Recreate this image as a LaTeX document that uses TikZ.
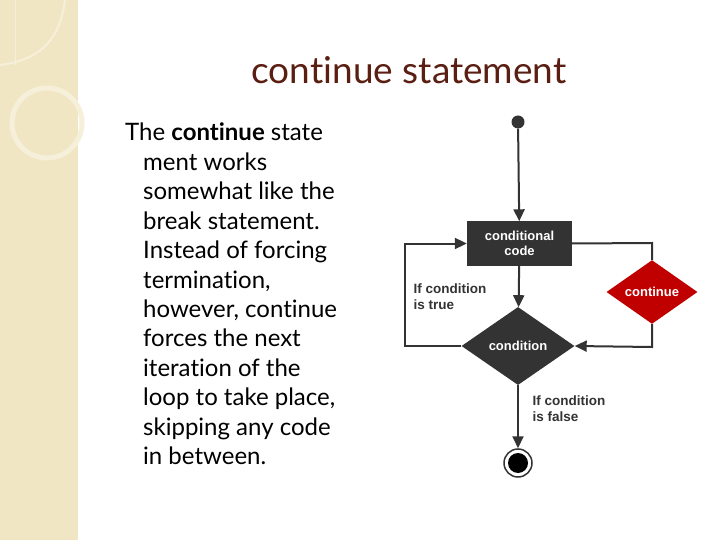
\documentclass[tikz,border=0pt]{standalone}
\usepackage{fontspec}
\setmainfont{Lato}[Ligatures=NoCommon]
\newfontfamily\fcfont{Liberation Sans}
\usetikzlibrary{shapes.geometric,arrows.meta}
\definecolor{strip}{HTML}{F1E6C4}
\definecolor{titlec}{HTML}{5A1E12}
\definecolor{fl}{HTML}{333333}
\definecolor{contc}{HTML}{C00000}
\begin{document}
\begin{tikzpicture}[x=1pt,y=-1pt,
  line/.style={draw=fl,line width=2pt},
  arr/.style={line,-{Triangle[length=12pt,width=11pt]}},
  bodyline/.style={anchor=base west,font=\fontsize{24}{24}\selectfont,inner sep=0pt},
  fctext/.style={font=\fcfont\bfseries\fontsize{13.5}{16}\selectfont,text=fl,align=left}]
\useasboundingbox (0,0) rectangle (720,540);
\fill[white] (0,0) rectangle (720,540);
\fill[strip] (0,0) rectangle (78,540);
\draw[white!35!strip,line width=5pt] (47,123) circle (35);
\draw[white!35!strip,line width=2pt] (0,65) .. controls (40,60) and (60,40) .. (65,0);
\draw[white!35!strip,line width=1pt] (15,0) -- (15,65);
\node[text=titlec,font=\fontsize{37}{37}\selectfont] (title) at (409,70) {continue statement};
\node[bodyline] (l1) at (125,141) {The \textbf{continue} state};
\foreach \t [count=\i] in {ment works,somewhat like the,break statement.,Instead of forcing,{termination,},{however, continue},forces the next,iteration of the,{loop to take place,},skipping any code,in between.}{
  \node[bodyline] (l\i x) at (143,141+29.4*\i) {\t};
}
% flowchart
\node[circle,fill=fl,minimum size=13pt,inner sep=0] (start) at (518,122) {};
\node[fill=fl,minimum width=105pt,minimum height=44pt,text=white,align=center,font=\fcfont\bfseries\fontsize{13}{15.5}\selectfont] (code) at (519.5,243.5) {conditional\\code};
\node[diamond,fill=fl,minimum width=113pt,minimum height=78pt,inner sep=0,text=white,font=\fcfont\bfseries\fontsize{13}{15}\selectfont] (cond) at (518,346) {condition};
\node[diamond,fill=contc,minimum width=91pt,minimum height=55pt,inner sep=0,text=white,font=\fcfont\bfseries\fontsize{13}{15}\selectfont] (cont) at (652,292) {continue};
\node[circle,draw=fl,line width=1.5pt,fill=white,minimum size=28pt,inner sep=0] (endo) at (518,463) {};
\node[circle,fill=black,minimum size=20pt,inner sep=0] (endi) at (518,463) {};
\coordinate (lc) at (405,346);
\coordinate (rc) at (652,347);
\coordinate (rt) at (652,243);
\draw[arr] (start) -- (code);
\draw[arr] (code) -- (cond);
\draw[arr] (cond.west) -- (lc) |- (code.west);
\draw[line] (code.east) -- (rt) -- (cont.north);
\draw[arr] (cont.south) -- (rc) -- (cond.east);
\draw[arr] (cond.south) -- (endo);
\node[fctext,anchor=north west] (t1) at (410,280) {If condition\\is true};
\node[fctext,anchor=north west] (t2) at (529,392) {If condition\\is false};
\end{tikzpicture}
\end{document}
